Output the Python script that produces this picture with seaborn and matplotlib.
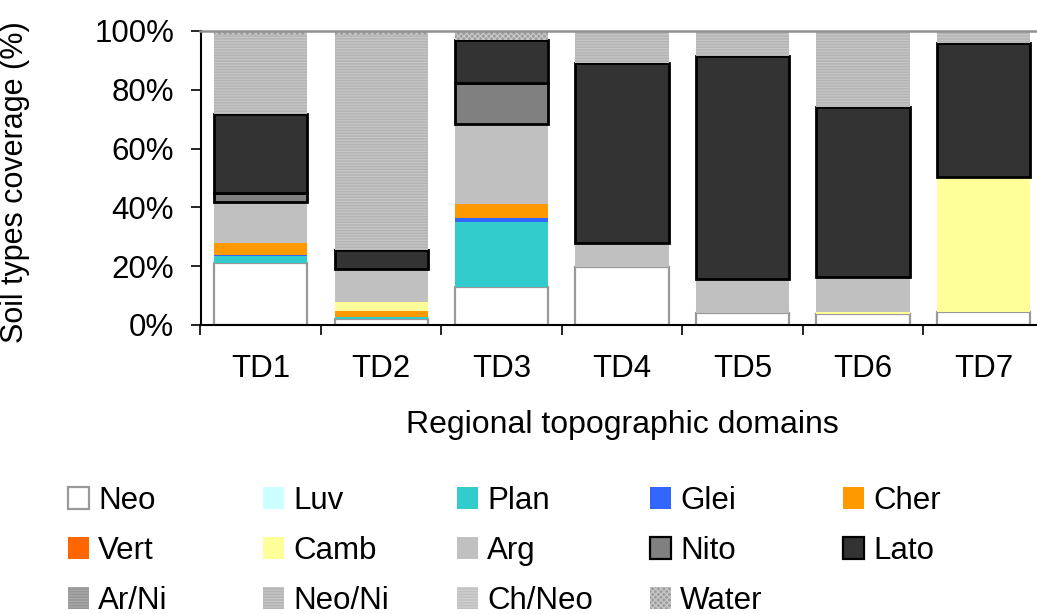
import matplotlib
matplotlib.use("Agg")
import matplotlib.pyplot as plt
from matplotlib.patches import Patch
from matplotlib.ticker import FixedLocator, PercentFormatter
import pandas as pd
import seaborn as sns

# Soil type coverage (%) per regional topographic domain
domains = ["TD1", "TD2", "TD3", "TD4", "TD5", "TD6", "TD7"]
soil_types = ["Neo", "Luv", "Plan", "Glei", "Cher", "Vert", "Camb",
              "Arg", "Nito", "Lato", "Ar/Ni", "Neo/Ni", "Ch/Neo", "Water"]

neo    = [21.0, 2.0, 13.0, 19.8, 4.0, 3.7, 4.3]
luv    = [0.0, 0.0, 0.0, 0.0, 0.0, 0.0, 0.0]
plan   = [2.5, 0.8, 22.1, 0.0, 0.0, 0.0, 0.0]
glei   = [0.3, 0.0, 1.4, 0.0, 0.0, 0.0, 0.0]
cher   = [4.0, 2.1, 4.8, 0.0, 0.0, 0.0, 0.0]
vert   = [0.0, 0.0, 0.0, 0.0, 0.0, 0.0, 0.0]
camb   = [0.0, 3.0, 0.0, 0.0, 0.0, 0.8, 45.9]
arg    = [14.2, 11.0, 27.0, 8.2, 11.6, 11.7, 0.0]
nito   = [2.8, 0.0, 14.1, 0.0, 0.0, 0.0, 0.0]
lato   = [27.0, 6.6, 14.5, 61.2, 76.0, 57.8, 45.8]
ar_ni  = [0.0, 0.0, 0.0, 0.0, 0.0, 0.0, 0.0]
neo_ni = [26.8, 73.1, 0.0, 10.3, 8.4, 26.0, 4.0]
ch_neo = [0.0, 0.0, 0.0, 0.0, 0.0, 0.0, 0.0]
water  = [1.4, 1.4, 3.1, 0.5, 0.0, 0.0, 0.0]

series = [neo, luv, plan, glei, cher, vert, camb,
          arg, nito, lato, ar_ni, neo_ni, ch_neo, water]

# fill, edge colour, edge width, hatch for each soil type
styles = {
    "Neo":    dict(facecolor="#FFFFFF", edgecolor="#999999", linewidth=1.6, hatch=None),
    "Luv":    dict(facecolor="#CCFFFF", edgecolor="none", linewidth=0, hatch=None),
    "Plan":   dict(facecolor="#33CCCC", edgecolor="none", linewidth=0, hatch=None),
    "Glei":   dict(facecolor="#3366FF", edgecolor="none", linewidth=0, hatch=None),
    "Cher":   dict(facecolor="#FF9900", edgecolor="none", linewidth=0, hatch=None),
    "Vert":   dict(facecolor="#FF6600", edgecolor="none", linewidth=0, hatch=None),
    "Camb":   dict(facecolor="#FFFF99", edgecolor="none", linewidth=0, hatch=None),
    "Arg":    dict(facecolor="#C0C0C0", edgecolor="none", linewidth=0, hatch=None),
    "Nito":   dict(facecolor="#808080", edgecolor="#000000", linewidth=2.0, hatch=None),
    "Lato":   dict(facecolor="#333333", edgecolor="#000000", linewidth=2.0, hatch=None),
    "Ar/Ni":  dict(facecolor="#969696", edgecolor="#A8A8A8", linewidth=0, hatch="------"),
    "Neo/Ni": dict(facecolor="#B4B4B4", edgecolor="#C6C6C6", linewidth=0, hatch="------"),
    "Ch/Neo": dict(facecolor="#C0C0C0", edgecolor="#D0D0D0", linewidth=0, hatch="------"),
    "Water":  dict(facecolor="#9C9C9C", edgecolor="#C8C8C8", linewidth=0, hatch="xxxxxx"),
}

sns.set_theme(style="white")
plt.rcParams["font.family"] = ["Liberation Sans", "DejaVu Sans"]
plt.rcParams["hatch.linewidth"] = 0.9

FS = 22.5

W, H = 1037, 614
fig = plt.figure(figsize=(W / 100, H / 100), dpi=100)
ax_left, ax_right, ax_top, ax_bottom = 200.5, 1043.75, 31.0, 325.0
ax = fig.add_axes([ax_left / W, (H - ax_bottom) / H,
                   (ax_right - ax_left) / W, (ax_bottom - ax_top) / H])

bottom = [0.0] * len(domains)
for name, values in zip(soil_types, series):
    rows = [(d, v, b) for d, v, b in zip(domains, values, bottom) if v > 0]
    if rows:
        df = pd.DataFrame(rows, columns=["domain", "pct", "base"])
        st = styles[name]
        kws = dict(edgecolor=st["edgecolor"], linewidth=st["linewidth"])
        if st["hatch"]:
            kws["hatch"] = st["hatch"]
        sns.barplot(data=df, x="domain", y="pct", order=domains, ax=ax,
                    color=st["facecolor"], saturation=1, errorbar=None,
                    width=0.775, bottom=df["base"].to_numpy(), **kws)
        # keep the face colour exact (seaborn may adjust it)
        for bar in ax.containers[-1]:
            bar.set_facecolor(st["facecolor"])
    bottom = [b + v for b, v in zip(bottom, values)]

# axes styling
ax.set_xlim(-0.5, len(domains) - 0.5)
ax.set_ylim(0, 100)
ax.yaxis.set_major_locator(FixedLocator([0, 20, 40, 60, 80, 100]))
ax.yaxis.set_major_formatter(PercentFormatter(decimals=0))
ax.set_xticks(range(len(domains)))
ax.set_xticklabels(domains)
ax.xaxis.set_minor_locator(FixedLocator([i - 0.5 for i in range(len(domains) + 1)]))
ax.tick_params(axis="x", which="major", length=0, pad=21, labelsize=FS, colors="black")
ax.tick_params(axis="x", which="minor", length=7, width=1.2, color="#000000", direction="out", bottom=True)
ax.tick_params(axis="y", which="major", length=7, width=1.2, color="#000000", direction="out",
               left=True, pad=12, labelsize=FS, labelcolor="black")

for side in ["left", "bottom"]:
    ax.spines[side].set_color("#000000")
    ax.spines[side].set_linewidth(1.5)
ax.spines["top"].set_color("#909090")
ax.spines["top"].set_linewidth(1.8)
ax.spines["right"].set_visible(False)
ax.set_facecolor("white")

ax.set_ylabel("Soil types coverage (%)", fontsize=22, color="black")
ax.yaxis.set_label_coords((30 - ax_left) / (ax_right - ax_left),
                          (ax_bottom - 182) / (ax_bottom - ax_top))
ax.set_xlabel("Regional topographic domains", fontsize=23, color="black")
ax.xaxis.set_label_coords(0.5, (ax_bottom - 425) / (ax_bottom - ax_top))
ax.xaxis.label.set_va("center")

# legend: five columns, filled row by row
def handle(name):
    st = styles[name]
    lw = 1.6 if st["linewidth"] else 0
    return Patch(facecolor=st["facecolor"], edgecolor=st["edgecolor"],
                 linewidth=lw, hatch=st["hatch"])

col_x = [68, 263, 457, 650, 843]
ncol = 5
for c in range(ncol):
    names = soil_types[c::ncol]
    leg = fig.legend([handle(n) for n in names], names,
                     loc="upper left",
                     bbox_to_anchor=(col_x[c] / W, 1 - 486 / H),
                     frameon=False, fontsize=FS, borderpad=0, borderaxespad=0,
                     handlelength=0.68, handleheight=0.68, handletextpad=0.28,
                     labelspacing=0.64)
    for t in leg.get_texts():
        t.set_color("black")

fig.savefig("out.png", dpi=100, facecolor="white")
